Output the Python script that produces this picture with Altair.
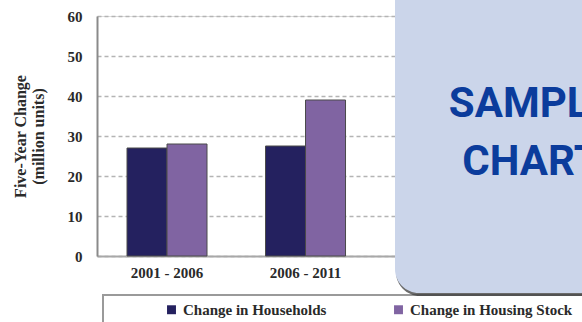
import altair as alt
import pandas as pd

periods = ["2001 - 2006", "2006 - 2011"]
series = ["Change in Households", "Change in Housing Stock"]
households = [27.0, 27.5]
housing_stock = [28.0, 39.0]
y_ticks = [0, 10, 20, 30, 40, 50, 60]
series_colors = ["#24215f", "#8064a2"]
y_title = ["Five-Year Change", "(million units)"]
overlay_text = "SAMPLE\nCHART"

rows = []
for p, h, s in zip(periods, households, housing_stock):
    rows.append({"period": p, "series": series[0], "value": h})
    rows.append({"period": p, "series": series[1], "value": s})
df = pd.DataFrame(rows)
one = pd.DataFrame({"k": [0]})

SERIF = "Liberation Serif"
TXT = "#2a2a2a"

bars = alt.Chart(df).mark_bar(stroke="#4a4a4a", strokeWidth=1).encode(
    x=alt.X(
        "period:N", sort=periods,
        scale=alt.Scale(paddingInner=0.4224, paddingOuter=0.962, align=0.1126),
        axis=alt.Axis(title=None, labelAngle=0, ticks=False, tickSize=0, labelPadding=9,
                      labelFont=SERIF, labelFontSize=15, labelFontWeight="bold",
                      labelColor=TXT, domainColor="#a8a8a8", domainWidth=2, grid=False),
    ),
    xOffset=alt.XOffset("series:N", sort=series),
    y=alt.Y(
        "value:Q", scale=alt.Scale(domain=[0, 60]),
        axis=alt.Axis(values=y_ticks, title=y_title, titleFont=SERIF, titleFontSize=16,
                      titleFontWeight="bold", titleColor=TXT, titleLineHeight=18,
                      titlePadding=21, ticks=False, tickSize=0, labelPadding=15,
                      labelFont=SERIF, labelFontSize=15, labelFontWeight="bold",
                      labelColor=TXT, domainColor="#8a8a8a", domainWidth=2,
                      grid=True, gridColor="#b4b4b4", gridDash=[4, 3], gridWidth=1.5),
    ),
    color=alt.Color(
        "series:N", sort=series,
        scale=alt.Scale(domain=series, range=series_colors),
        legend=alt.Legend(orient="none", legendX=67, legendY=286, direction="horizontal",
                          title=None, symbolType="square", symbolSize=80,
                          symbolStrokeWidth=0, labelFont=SERIF, labelFontSize=15,
                          labelFontWeight="bold", labelColor=TXT, columnPadding=64,
                          padding=0, labelOffset=4, labelLimit=400),
    ),
)

legend_box = alt.Chart(one).mark_rect(fill="white", stroke="#9a9a9a", strokeWidth=2).encode(
    x=alt.value(6), x2=alt.value(560), y=alt.value(279), y2=alt.value(340)
)

shadow = alt.Chart(one).mark_rect(fill="#3a3a3a", opacity=0.75, cornerRadius=24).encode(
    x=alt.value(299), x2=alt.value(620), y=alt.value(-40), y2=alt.value(280)
)
overlay = alt.Chart(one).mark_rect(fill="#cbd5ea", cornerRadius=24).encode(
    x=alt.value(298), x2=alt.value(620), y=alt.value(-40), y2=alt.value(277)
)
label = alt.Chart(one).mark_text(
    font="Roboto", fontSize=42, fontWeight="bold",
    color="#0b3c9c", align="center", baseline="alphabetic", lineBreak="\n", lineHeight=58
).encode(x=alt.value(434), y=alt.value(101), text=alt.value(overlay_text))

chart = alt.layer(bars, legend_box, shadow, overlay, label).properties(
    width=485, height=240,
    autosize=alt.AutoSizeParams(type="none"),
    padding={"left": 97, "top": 16, "right": 0, "bottom": 66},
).configure_view(stroke="#9a9a9a", strokeWidth=2).configure(background="white")

chart.save("out.html", embed_options={"renderer": "svg", "actions": False})
